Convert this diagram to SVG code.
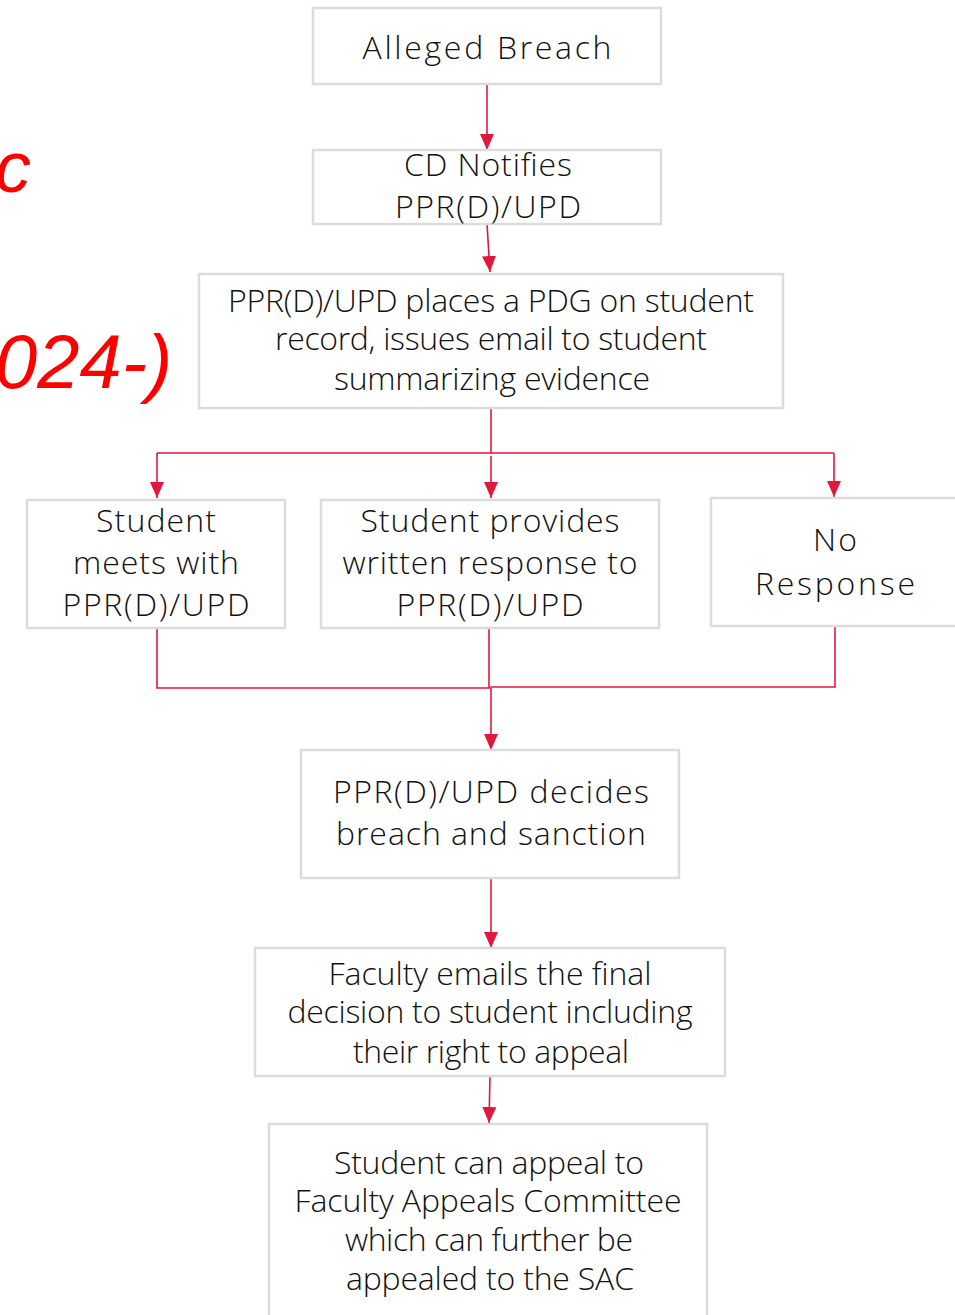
<svg xmlns="http://www.w3.org/2000/svg" width="955" height="1315" viewBox="0 0 955 1315">
<defs>
<marker id="ah" viewBox="0 0 16 14" refX="16" refY="7" markerWidth="16" markerHeight="14" markerUnits="userSpaceOnUse" orient="auto">
<path d="M0,0 L16,7 L0,14 Z" fill="#e0193c"/>
</marker>
<style>
.box{fill:#fff;stroke:#dcdcdc;stroke-width:2.5}
.t{font-family:"Open Sans","Liberation Sans",sans-serif;font-weight:300;font-size:32px;fill:#111;text-anchor:middle}
.c{fill:none;stroke:#e0193c;stroke-width:1.6}
.ca{fill:none;stroke:#e0193c;stroke-width:1.6;marker-end:url(#ah)}
.red{font-family:"Liberation Sans",sans-serif;font-style:italic;fill:#ff0000}
</style>
</defs>
<rect width="955" height="1315" fill="#fff"/>
<text class="red" x="-5" y="192" font-size="72">c</text>
<text class="red" x="-5" y="388" font-size="76">024-)</text>
<g id="connectors">
<path class="ca" d="M487,84 L487,150"/>
<path class="ca" d="M487,224 L490,272"/>
<path class="c" d="M491,408 L491,453 M157,453 L834,453"/>
<path class="ca" d="M157,453 L157,498"/>
<path class="ca" d="M491,456 L491,498"/>
<path class="ca" d="M834,453 L834,497"/>
<path class="c" d="M157,628 L157,688 L490,688 M835,626 L835,687 L490,687 M489,628 L489,688"/>
<path class="ca" d="M491,688 L491,750"/>
<path class="ca" d="M491,878 L491,948"/>
<path class="ca" d="M490,1076 L489,1123"/>
</g>
<g id="n1"><rect class="box" x="313" y="8" width="348" height="76"/><text class="t" x="487" y="59" font-size="37" textLength="249">Alleged Breach</text></g>
<g id="n2"><rect class="box" x="313" y="150" width="348" height="74"/><text class="t" x="488" y="176" textLength="168">CD Notifies</text><text class="t" x="488" y="218" textLength="186">PPR(D)/UPD</text></g>
<g id="n3"><rect class="box" x="199" y="274" width="584" height="134"/><text class="t" x="491" y="312" textLength="526">PPR(D)/UPD places a PDG on student</text><text class="t" x="491" y="350" textLength="432">record, issues email to student</text><text class="t" x="492" y="390" textLength="316">summarizing evidence</text></g>
<g id="n4"><rect class="box" x="27" y="500" width="258" height="128"/><text class="t" x="156" y="532" textLength="120">Student</text><text class="t" x="156" y="574" textLength="166">meets with</text><text class="t" x="156" y="616" textLength="187">PPR(D)/UPD</text></g>
<g id="n5"><rect class="box" x="321" y="500" width="338" height="128"/><text class="t" x="490" y="532" textLength="259">Student provides</text><text class="t" x="490" y="574" textLength="295">written response to</text><text class="t" x="490" y="616" textLength="187">PPR(D)/UPD</text></g>
<g id="n6"><rect class="box" x="711" y="498" width="260" height="128"/><text class="t" x="835" y="551" font-size="35" textLength="44">No</text><text class="t" x="835" y="595" font-size="35" textLength="160">Response</text></g>
<g id="n7"><rect class="box" x="301" y="750" width="378" height="128"/><text class="t" x="491" y="803" textLength="316">PPR(D)/UPD decides</text><text class="t" x="491" y="845" textLength="310">breach and sanction</text></g>
<g id="n8"><rect class="box" x="255" y="948" width="470" height="128"/><text class="t" x="490" y="985" textLength="323">Faculty emails the final</text><text class="t" x="490" y="1023" textLength="405">decision to student including</text><text class="t" x="491" y="1063" textLength="276">their right to appeal</text></g>
<g id="n9"><rect class="box" x="269" y="1124" width="438" height="200"/><text class="t" x="489" y="1174" textLength="310">Student can appeal to</text><text class="t" x="488" y="1212" textLength="387">Faculty Appeals Committee</text><text class="t" x="489" y="1251" textLength="288">which can further be</text><text class="t" x="490" y="1290" textLength="288">appealed to the SAC</text></g>
</svg>
